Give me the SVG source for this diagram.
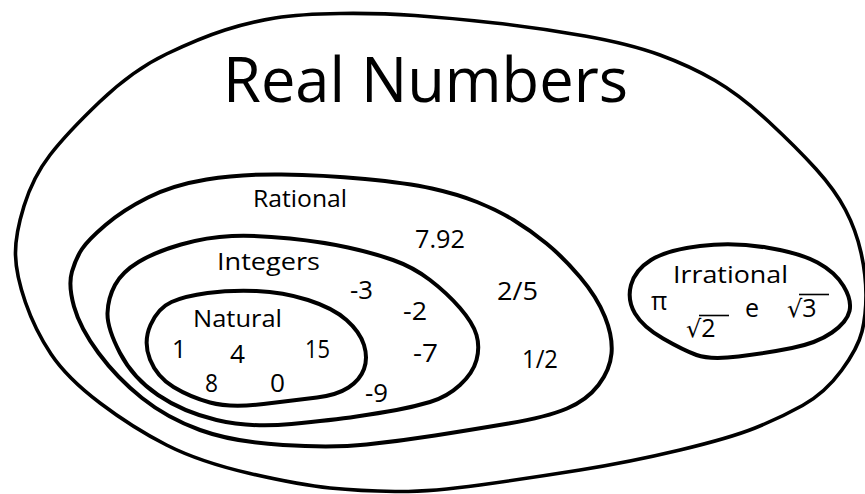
<svg xmlns="http://www.w3.org/2000/svg" width="865" height="494" viewBox="0 0 865 494">
<style>
.set{fill:none;stroke:#000;stroke-width:4;stroke-linejoin:round}
.outer{stroke-width:3.6}
text{font-family:"Open Sans","DejaVu Sans",sans-serif;fill:#000}
.title{font-size:62px}
.lab{font-size:24px}
.num{font-size:25px}
.rad{font-family:"DejaVu Sans",sans-serif;font-size:24px}
.bar{stroke:#000;stroke-width:1.6}
</style>
<rect width="865" height="494" fill="#fff"/>
<g id="real">
<path class="set outer" d="M 225,30 Q 250,22 275,18 Q 300,14 340,13.5 Q 380,13 415,15.5 Q 450,18 495,23 Q 540,28 585,36 Q 630,44 660,55 Q 690,66 715,80.5 Q 740,95 768.5,121.5 Q 797,148 816,169 Q 835,190 845.5,210 Q 856,230 861,252.5 Q 866,275 866,295 Q 866,315 862,331.5 Q 858,348 841.5,370.5 Q 825,393 802.5,405.5 Q 780,418 755,428 Q 730,438 680,450 Q 630,462 580,470 Q 530,478 480,485 Q 430,492 395,491.5 Q 360,491 330,488 Q 300,485 250,473.5 Q 200,462 166.5,445 Q 133,428 100,403 Q 67,378 51,354 Q 35,330 25.5,302.5 Q 16,275 15.5,255 Q 15,235 24,206 Q 33,177 50,155 Q 67,133 100,101.5 Q 133,70 166.5,54 Q 200,38 225,30 Z"/>
<text class="title" x="223" y="102" textLength="405" lengthAdjust="spacingAndGlyphs">Real Numbers</text>
</g>
<g id="rational">
<path class="set" d="M 206.5,179.5 Q 240,174 281.5,174.5 Q 323,175 365,179 Q 407,183 432,188.5 Q 457,194 477,202 Q 497,210 513.5,220 Q 530,230 546.5,243.5 Q 563,257 580,277 Q 597,297 605,317 Q 613,337 611.5,353.5 Q 610,370 598.5,385 Q 587,400 567,408.5 Q 547,417 508.5,423.5 Q 470,430 435,435.5 Q 400,441 366.5,444.5 Q 333,448 283,445 Q 233,442 200,430 Q 167,418 142,398 Q 117,378 98.5,353 Q 80,328 74,306.5 Q 68,285 72,271.5 Q 76,258 82,249 Q 88,240 105.5,225 Q 123,210 148,197.5 Q 173,185 206.5,179.5 Z"/>
<text class="lab" x="253" y="207" textLength="94" lengthAdjust="spacingAndGlyphs">Rational</text>
<text class="num" x="415" y="248" textLength="50" lengthAdjust="spacingAndGlyphs">7.92</text>
<text class="num" x="497" y="300" textLength="41" lengthAdjust="spacingAndGlyphs">2/5</text>
<text class="num" x="522" y="368" textLength="36" lengthAdjust="spacingAndGlyphs">1/2</text>
</g>
<g id="integers">
<path class="set" d="M 232,236 Q 257,235 290,238.5 Q 323,242 348,247.5 Q 373,253 393,260 Q 413,267 430,280 Q 447,293 460,308 Q 473,323 476.5,335 Q 480,347 476.5,360 Q 473,373 460,385 Q 447,397 430,402 Q 413,407 396.5,410 Q 380,413 356.5,416.5 Q 333,420 291.5,424 Q 250,428 216.5,420 Q 183,412 158,395 Q 133,378 120,353 Q 107,328 107.5,313 Q 108,298 115,285 Q 122,272 138.5,262 Q 155,252 181,244.5 Q 207,237 232,236 Z"/>
<text class="lab" x="217" y="270" textLength="103" lengthAdjust="spacingAndGlyphs">Integers</text>
<text class="num" x="350" y="299" textLength="23" lengthAdjust="spacingAndGlyphs">-3</text>
<text class="num" x="403" y="320" textLength="24" lengthAdjust="spacingAndGlyphs">-2</text>
<text class="num" x="413" y="362" textLength="25" lengthAdjust="spacingAndGlyphs">-7</text>
<text class="num" x="365" y="402" textLength="23" lengthAdjust="spacingAndGlyphs">-9</text>
</g>
<g id="natural">
<path class="set" d="M 207.5,293 Q 230,290 256.5,291 Q 283,292 308,300 Q 333,308 346.5,320 Q 360,332 364,345 Q 368,358 364,369 Q 360,380 348.5,387.5 Q 337,395 317,397.5 Q 297,400 263.5,404 Q 230,408 210,402.5 Q 190,397 173.5,387 Q 157,377 150,359.5 Q 143,342 150.5,325 Q 158,308 171.5,302 Q 185,296 207.5,293 Z"/>
<text class="lab" x="193" y="327" textLength="89" lengthAdjust="spacingAndGlyphs">Natural</text>
<text class="num" x="172" y="358">1</text>
<text class="num" x="230" y="363" textLength="15" lengthAdjust="spacingAndGlyphs">4</text>
<text class="num" x="305" y="358" textLength="25" lengthAdjust="spacingAndGlyphs">15</text>
<text class="num" x="205" y="392" textLength="13" lengthAdjust="spacingAndGlyphs">8</text>
<text class="num" x="270" y="392" textLength="15" lengthAdjust="spacingAndGlyphs">0</text>
</g>
<g id="irrational">
<path class="set" d="M 700,246 Q 733,242 766.5,247.5 Q 800,253 817.5,262.5 Q 835,272 843.5,286 Q 852,300 849.5,311 Q 847,322 832,332.5 Q 817,343 792,348 Q 767,353 738.5,356.5 Q 710,360 696.5,355 Q 683,350 663,338.5 Q 643,327 635,313.5 Q 627,300 631,285 Q 635,270 651,260 Q 667,250 700,246 Z"/>
<text class="lab" x="673" y="283" textLength="115" lengthAdjust="spacingAndGlyphs">Irrational</text>
<text class="num" x="651" y="310">π</text>
<text class="num" x="686" y="337"><tspan class="rad">√</tspan><tspan>2</tspan></text>
<line class="bar" x1="699" y1="315.5" x2="729" y2="315.5"/>
<text class="num" x="745" y="317">e</text>
<text class="num" x="787" y="317"><tspan class="rad">√</tspan><tspan>3</tspan></text>
<line class="bar" x1="799" y1="294.5" x2="829" y2="294.5"/>
</g>
</svg>
